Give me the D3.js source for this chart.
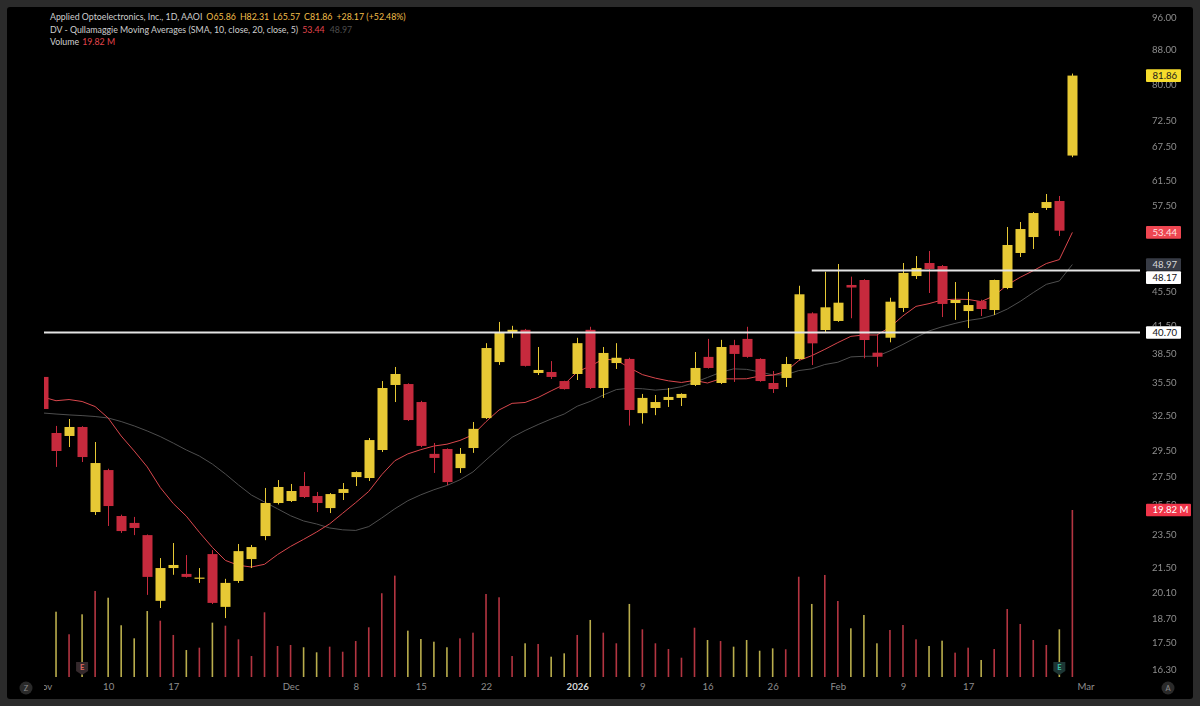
<!DOCTYPE html>
<html><head><meta charset="utf-8">
<script src="https://cdn.jsdelivr.net/npm/d3@7"></script>
<style>
html,body{margin:0;padding:0;background:#2b2b2b;}
svg{display:block;}
text{font-family:Lato,"Open Sans",sans-serif;}
</style></head><body>
<svg id="chart" width="1200" height="706"></svg>
<script>
// ---------------- data ----------------
const dates = [
"2025-11-03","2025-11-04","2025-11-05","2025-11-06","2025-11-07","2025-11-10","2025-11-11","2025-11-12","2025-11-13","2025-11-14",
"2025-11-17","2025-11-18","2025-11-19","2025-11-20","2025-11-21","2025-11-24","2025-11-25","2025-11-26","2025-11-28",
"2025-12-01","2025-12-02","2025-12-03","2025-12-04","2025-12-05","2025-12-08","2025-12-09","2025-12-10","2025-12-11","2025-12-12",
"2025-12-15","2025-12-16","2025-12-17","2025-12-18","2025-12-19","2025-12-22","2025-12-23","2025-12-24","2025-12-26","2025-12-29","2025-12-30","2025-12-31",
"2026-01-02","2026-01-05","2026-01-06","2026-01-07","2026-01-08","2026-01-09","2026-01-12","2026-01-13","2026-01-14","2026-01-15","2026-01-16",
"2026-01-20","2026-01-21","2026-01-22","2026-01-23","2026-01-26","2026-01-27","2026-01-28","2026-01-29","2026-01-30",
"2026-02-02","2026-02-03","2026-02-04","2026-02-05","2026-02-06","2026-02-09","2026-02-10","2026-02-11","2026-02-12","2026-02-13",
"2026-02-17","2026-02-18","2026-02-19","2026-02-20","2026-02-23","2026-02-24","2026-02-25","2026-02-26","2026-02-27"];

const opens = [36.07,30.97,30.72,31.48,24.98,28.00,24.71,24.25,23.46,19.62,
21.45,21.11,20.85,22.28,19.30,20.71,21.98,23.40,25.60,
25.74,26.81,26.09,25.25,26.31,27.47,27.40,29.57,35.29,35.38,
33.69,29.26,29.65,28.15,29.73,32.25,37.56,40.67,41.00,36.46,36.56,35.67,
36.36,41.00,35.00,37.46,37.88,32.69,33.15,33.88,34.07,35.29,38.09,
35.48,39.33,40.00,37.88,35.48,35.97,37.87,42.88,40.98,
42.00,46.32,46.95,38.53,40.13,43.51,47.46,49.17,48.77,44.10,
43.15,44.34,43.27,45.94,50.53,52.77,57.11,58.20,65.86];
const highs = [36.10,31.57,32.17,31.55,30.22,28.10,24.80,24.65,23.50,22.04,
22.96,22.22,21.45,22.52,20.83,22.90,22.84,26.67,27.25,
26.96,27.85,26.38,26.30,27.03,27.90,30.55,35.67,37.06,35.45,
33.80,30.14,29.70,29.73,31.91,39.54,41.89,41.45,41.10,39.13,37.66,35.70,
40.12,41.34,39.13,39.54,38.00,34.44,34.34,35.00,34.50,38.60,40.00,
39.90,39.90,41.34,37.95,36.66,38.09,46.22,43.00,48.02,
49.04,47.38,47.05,40.43,44.74,49.17,50.11,50.80,48.90,46.69,
45.45,44.50,47.00,54.23,54.97,56.48,59.32,59.00,82.31];
const lows = [33.00,28.24,29.81,28.62,24.78,24.05,23.60,23.46,19.94,19.24,
21.06,20.90,20.60,19.45,18.72,20.60,21.45,23.14,25.50,
25.67,25.95,24.98,24.91,25.81,26.81,27.18,29.41,33.69,32.00,
29.80,27.78,26.88,27.78,29.34,32.17,37.27,40.12,37.10,36.26,35.87,34.85,
35.77,34.90,34.07,36.86,31.60,31.77,32.51,33.24,33.33,35.19,36.90,
35.38,35.58,38.00,35.60,34.53,35.10,37.80,37.26,40.73,
41.90,42.31,37.95,37.08,39.63,43.04,47.08,45.32,42.45,42.12,
41.20,42.57,42.69,45.80,49.98,51.08,56.80,52.92,65.57];
const closes = [33.06,29.49,31.48,29.01,28.54,25.39,23.72,23.92,20.94,21.45,
21.63,20.94,20.90,19.51,20.60,22.46,22.71,25.60,26.74,
26.45,26.02,25.60,26.23,26.59,27.85,30.38,35.00,36.36,32.08,
29.90,28.94,27.10,29.26,31.32,39.02,40.67,41.00,37.17,36.76,36.07,34.90,
39.54,35.00,38.50,38.00,32.97,34.07,33.69,34.16,34.44,36.96,36.96,
39.13,38.40,38.09,35.67,34.90,37.36,45.16,39.52,43.59,
44.14,46.00,39.88,38.11,44.26,47.86,48.51,48.38,43.99,44.47,
43.86,43.39,46.95,51.64,53.93,56.33,58.04,53.69,81.86];
// volume in millions
const volumes = [6.50,7.75,5.07,7.44,10.21,9.41,6.14,4.59,7.83,6.68,
4.99,3.20,3.48,6.45,6.09,4.47,2.49,7.68,3.68,
3.80,3.53,2.93,3.60,3.00,4.27,5.90,9.94,12.03,5.50,
4.51,4.19,3.53,4.59,5.26,9.85,9.46,2.49,4.00,3.92,2.41,2.81,
4.99,6.77,5.26,4.00,8.67,5.66,4.00,3.32,2.29,5.85,4.39,
4.27,3.60,4.39,3.12,3.40,3.29,11.90,8.67,12.11,
9.02,5.78,7.36,4.00,5.58,6.17,4.47,3.68,4.31,2.89,
3.48,2.02,3.32,8.07,6.29,4.39,3.80,5.66,19.82];
const sma10 = [34.15,33.81,33.92,33.74,33.28,32.26,30.72,29.49,28.24,26.70,
25.56,24.70,23.64,22.69,21.90,21.61,21.51,21.67,22.25,
22.75,23.19,23.66,24.19,24.90,25.63,26.42,27.65,28.72,29.26,
29.60,29.89,30.04,30.35,30.82,31.94,32.97,33.57,33.65,34.11,34.73,35.33,
36.57,37.15,37.86,37.76,36.99,36.30,35.95,35.69,35.53,35.73,35.48,
35.89,35.88,35.89,36.16,36.24,36.61,37.71,38.22,38.88,
39.60,40.28,40.43,40.43,41.29,42.59,43.70,44.03,44.47,44.56,
44.53,44.27,44.98,46.33,47.30,48.15,49.10,49.63,53.44];
const sma20 = [32.70,32.61,32.53,32.47,32.39,32.26,31.95,31.57,31.14,30.67,
30.13,29.57,29.09,28.46,27.70,26.89,26.16,25.67,25.20,
24.73,24.38,24.18,23.92,23.80,23.76,24.01,24.58,25.20,25.76,
26.18,26.54,26.85,27.27,27.86,28.78,29.69,30.61,31.18,31.69,32.17,32.61,
33.31,33.75,34.34,34.85,34.98,34.93,34.80,34.90,35.13,35.53,36.02,
36.52,36.87,36.82,36.57,36.27,36.28,36.70,36.87,37.31,
37.54,38.09,38.15,38.16,38.72,39.41,40.16,40.87,41.34,41.72,
42.06,42.28,42.70,43.38,44.30,45.37,46.40,46.83,48.97];

const xTickDates  = ["2025-11-03","2025-11-10","2025-11-17","2025-12-01","2025-12-08","2025-12-15","2025-12-22","2026-01-02","2026-01-09","2026-01-16","2026-01-26","2026-02-02","2026-02-09","2026-02-17","2026-03-02"];
const xTickLabels = ["Nov","10","17","Dec","8","15","22","2026","9","16","26","Feb","9","17","Mar"];
const yTickValues = [96,88,80,72.5,67.5,61.5,57.5,45.5,41.5,38.5,35.5,32.5,29.5,27.5,25.5,23.5,21.5,20.1,18.7,17.5,16.3];
const levelPrices = [40.70,48.17];
const levelStartDates = ["2025-11-03","2026-01-29"];
const earningsDates = ["2025-11-06","2026-02-26"];
const legendLine1 = "Applied Optoelectronics, Inc., 1D, AAOI";
const legendOHLC = ["O65.86","H82.31","L65.57","C81.86","+28.17 (+52.48%)"];
const legendLine2 = "DV - Qullamaggie Moving Averages (SMA, 10, close, 20, close, 5)";
const legendLine3 = "Volume";

// ---------------- drawing ----------------
const W = 1200, H = 706;
const svg = d3.select("#chart");
const C = {up:"#e7c935", down:"#c62a3d", volUp:"#b33541", volDown:"#b9ad4c",
           ma10:"#d9474d", ma20:"#4e4e4e", axis:"#8e8e8e"};
const plot = {left:44, right:1140, top:7, bottom:699};

svg.append("rect").attr("width",W).attr("height",H).attr("fill","#2b2b2b");
svg.append("rect").attr("x",7).attr("y",7).attr("width",1186).attr("height",692).attr("rx",3).attr("fill","#000");

const defs = svg.append("defs");
defs.append("clipPath").attr("id","plotclip").append("rect")
  .attr("x",plot.left).attr("y",plot.top).attr("width",plot.right-plot.left).attr("height",plot.bottom-plot.top);

const idxOf = d => { const k = dates.indexOf(d); return k >= 0 ? k : dates.length; };
const x = d3.scaleLinear().domain([0, dates.length-1]).range([43, 43 + 13.03*(dates.length-1)]);
const y = d3.scaleLog().domain([16.3, 96]).range([669, 17]);
const yv = d3.scaleLinear().domain([0, d3.max(volumes)]).range([677, 510]);

const g = svg.append("g").attr("clip-path","url(#plotclip)");

const data = dates.map((d,i)=>({i, o:opens[i], h:highs[i], l:lows[i], c:closes[i], v:volumes[i]}));

// volume
g.append("g").selectAll("rect").data(data).join("rect")
  .attr("x", d=>x(d.i)-0.8).attr("width",1.6)
  .attr("y", d=>yv(d.v)).attr("height", d=>yv(0)-yv(d.v))
  .attr("fill", d=> d.c>=d.o ? C.volUp : C.volDown);

// earnings badges
const eg = g.append("g");
earningsDates.forEach((ed,k)=>{
  const cx = x(idxOf(ed));
  const bg = k===0 ? "#35292c" : "#1d3634";
  const fg = k===0 ? "#e0675e" : "#39bfa6";
  eg.append("path")
    .attr("d", `M${cx-6},662 h12 v9 l-6,4 l-6,-4 z`)
    .attr("fill", bg);
  eg.append("text").attr("x",cx).attr("y",670).attr("text-anchor","middle")
    .attr("font-size","7.5px").attr("font-weight","bold").attr("fill",fg).text("E");
});

// MA lines
const line = d3.line().x((d,i)=>x(i)).y(d=>y(d));
g.append("path").datum(sma20).attr("d",line).attr("fill","none").attr("stroke",C.ma20).attr("stroke-width",1);
g.append("path").datum(sma10).attr("d",line).attr("fill","none").attr("stroke",C.ma10).attr("stroke-width",1);

// candles
const cg = g.append("g").selectAll("g").data(data).join("g");
cg.append("line")
  .attr("x1", d=>Math.round(x(d.i))+0.5).attr("x2", d=>Math.round(x(d.i))+0.5)
  .attr("y1", d=>y(d.h)).attr("y2", d=>y(d.l))
  .attr("stroke", d=> d.c>=d.o ? C.up : C.down).attr("stroke-width",1);
cg.append("rect")
  .attr("x", d=>Math.round(x(d.i))-4.5).attr("width",10)
  .attr("y", d=>y(Math.max(d.o,d.c)))
  .attr("height", d=>Math.max(1.2, Math.abs(y(d.o)-y(d.c))))
  .attr("fill", d=> d.c>=d.o ? C.up : C.down);

// horizontal levels
levelPrices.forEach((p,k)=>{
  g.append("line").attr("x1", Math.max(plot.left, x(idxOf(levelStartDates[k])))).attr("x2", plot.right)
    .attr("y1", y(p)).attr("y2", y(p)).attr("stroke","#e4e4e4").attr("stroke-width",2);
});

// price labels on axis (positions computed first so the axis can be masked under them)
const labels = [
  {v:y(closes[closes.length-1]), t:d3.format(".2f")(closes[closes.length-1]), bg:"#f6dc2c", fg:"#1a1a1a", w:35},
  {v:y(sma10[sma10.length-1]), t:d3.format(".2f")(sma10[sma10.length-1]), bg:"#ee4651", fg:"#ffe3e3", w:35},
  {v:y(sma20[sma20.length-1]), t:d3.format(".2f")(sma20[sma20.length-1]), bg:"#373b45", fg:"#d8d8d8", w:35},
  {v:y(levelPrices[1]), t:d3.format(".2f")(levelPrices[1]), bg:"#ffffff", fg:"#111", w:35},
  {v:y(levelPrices[0]), t:d3.format(".2f")(levelPrices[0]), bg:"#ffffff", fg:"#111", w:35},
  {v:yv(volumes[volumes.length-1]), t:d3.format(".2f")(volumes[volumes.length-1])+" M", bg:"#f0354a", fg:"#fff", w:45}
];
let prevBottom = -1e9;
const lh = 12.6;
labels.forEach(L=>{
  let top = L.v - lh/2;
  if (top < prevBottom + 0.5) top = prevBottom + 0.5;
  prevBottom = top + lh;
  L.top = top;
});

// mask hiding axis text beneath the labels
const mask = defs.append("mask").attr("id","axismask").attr("maskUnits","userSpaceOnUse")
  .attr("x",0).attr("y",0).attr("width",W).attr("height",H);
mask.append("rect").attr("x",0).attr("y",0).attr("width",W).attr("height",H).attr("fill","#fff");
labels.forEach(L=>mask.append("rect").attr("x",1140).attr("y",L.top).attr("width",60).attr("height",lh).attr("fill","#000"));

// right axis
const ya = svg.append("g").attr("mask","url(#axismask)").append("g").attr("transform","translate(1152,0)")
  .call(d3.axisRight(y).tickValues(yTickValues).tickFormat(d3.format(".2f")).tickSize(0).tickPadding(0));
ya.select(".domain").remove();
ya.selectAll("text").attr("fill",C.axis).attr("font-size","9.6px").attr("font-family","Lato, sans-serif").attr("text-anchor","start");

// bottom axis
const xa = svg.append("g").attr("clip-path","url(#plotclip)").append("g").attr("transform","translate(0,683.5)")
  .call(d3.axisBottom(x).tickValues(xTickDates.map(idxOf)).tickFormat((d,i)=>xTickLabels[i]).tickSize(0).tickPadding(0));
xa.select(".domain").remove();
xa.selectAll("text").attr("fill",C.axis).attr("font-size","9.6px").attr("font-family","Lato, sans-serif")
  .filter((d,i)=>xTickLabels[i]==="2026").attr("font-weight","bold").attr("fill","#d6d6d6");

labels.forEach(L=>{
  svg.append("rect").attr("x",1146).attr("y",L.top).attr("width",L.w).attr("height",lh).attr("rx",1).attr("fill",L.bg);
  svg.append("text").attr("x",1152.5).attr("y",L.top+lh/2).attr("dy","0.35em")
    .attr("font-size","9.6px").attr("fill",L.fg).text(L.t);
});

// legend
function legendRow(yb, parts){
  let cx = 50;
  parts.forEach(p=>{
    const t = svg.append("text").attr("x",cx).attr("y",yb).attr("font-size","8.8px").attr("fill",p.c).text(p.t);
    cx += t.node().getComputedTextLength() + (p.gap||4);
  });
}
legendRow(20.3, [{t:legendLine1,c:"#cfcfcf",gap:4}].concat(legendOHLC.map(t=>({t,c:"#f2bf4a",gap:4}))));
legendRow(32.5, [{t:legendLine2,c:"#cfcfcf",gap:4},{t:d3.format(".2f")(sma10[sma10.length-1]),c:"#e0454c",gap:5},{t:d3.format(".2f")(sma20[sma20.length-1]),c:"#4e4e4e"}]);
legendRow(44.7, [{t:legendLine3,c:"#cfcfcf",gap:3},{t:d3.format(".2f")(volumes[volumes.length-1])+" M",c:"#e0454c"}]);

// corner buttons
[[26,"Z"],[1168,"A"]].forEach(([cx,t])=>{
  svg.append("circle").attr("cx",cx).attr("cy",688).attr("r",6.5).attr("fill","#2a2a2a");
  svg.append("text").attr("x",cx).attr("y",688).attr("dy","0.35em").attr("text-anchor","middle")
    .attr("font-size","7.5px").attr("fill","#8a8a8a").text(t);
});
</script>
</body></html>
